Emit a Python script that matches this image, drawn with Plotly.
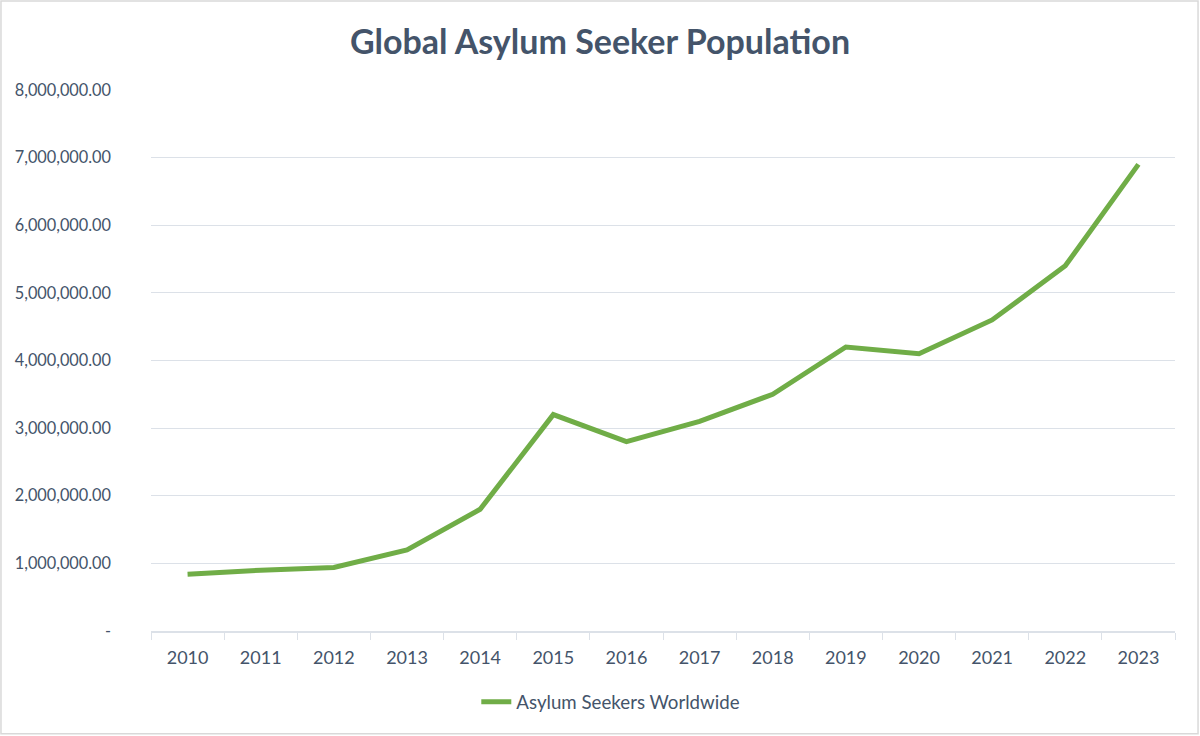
import plotly.graph_objects as go

years = ["2010", "2011", "2012", "2013", "2014", "2015", "2016", "2017", "2018", "2019", "2020", "2021", "2022", "2023"]
asylum_seekers = [840000, 900000, 940000, 1200000, 1800000, 3200000, 2800000, 3100000, 3500000, 4200000, 4100000, 4600000, 5400000, 6900000]
series_name = "Asylum Seekers Worldwide"
y_tick_vals = [0, 1000000, 2000000, 3000000, 4000000, 5000000, 6000000, 7000000, 8000000]
y_tick_text = ["-", "1,000,000.00", "2,000,000.00", "3,000,000.00", "4,000,000.00",
               "5,000,000.00", "6,000,000.00", "7,000,000.00", "8,000,000.00"]

FONT = "Lato"
TXT = "#44546A"
GRID = "#DCE1E8"

fig = go.Figure()
fig.add_trace(go.Scatter(
    x=years, y=asylum_seekers, mode="lines", name=series_name,
    line=dict(color="#70AD47", width=5),
))

fig.update_layout(
    width=1200, height=736,
    margin=dict(l=151, r=25, t=90, b=105, autoexpand=False),
    paper_bgcolor="white", plot_bgcolor="white",
    title=dict(text="<b>Global Asylum Seeker Population</b>", x=0.5, xanchor="center",
               yref="container", y=1 - 42 / 736, yanchor="middle",
               font=dict(family=FONT, size=34, color=TXT)),
    font=dict(family=FONT, size=16, color=TXT),
    showlegend=True,
    legend=dict(orientation="h", x=0.509, xanchor="center", xref="container",
                yref="container", y=1 - 702 / 736, yanchor="middle",
                font=dict(family=FONT, size=18.7, color=TXT)),
    xaxis=dict(type="category", showgrid=False, showline=True, linecolor=GRID, linewidth=1.5,
               ticks="outside", tickson="boundaries", ticklen=7, tickcolor=GRID,
               automargin=False, ticklabelstandoff=10,
               tickfont=dict(family=FONT, size=18, color=TXT), range=[-0.5, 13.5]),
    yaxis=dict(range=[0, 8000000], tickvals=y_tick_vals, ticktext=y_tick_text,
               showgrid=True, gridcolor=GRID, gridwidth=1.2, zeroline=False, showline=False,
               ticks="", ticklabelstandoff=39, automargin=False,
               tickfont=dict(family=FONT, size=16.3, color=TXT)),
    shapes=[dict(type="rect", xref="paper", yref="paper", x0=-0.1465, x1=1.0225, y0=-0.19, y1=1.1645,
                 line=dict(color="#D9D9D9", width=1.5), fillcolor="rgba(0,0,0,0)", layer="below")],
)

fig.write_html("out.html", config={"displayModeBar": False},
               post_script="document.body.style.margin='0px';document.body.style.padding='0px';")
